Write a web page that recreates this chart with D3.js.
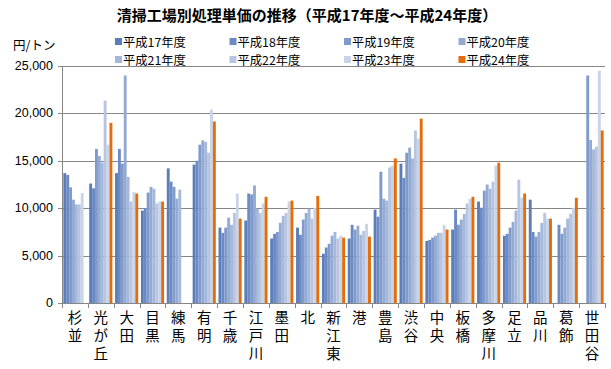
<!DOCTYPE html>
<html lang="ja">
<head>
  <meta charset="UTF-8">
  <title>清掃工場別処理単価の推移</title>
  <script src="https://d3js.org/d3.v7.min.js"></script>
  <style>
    body { margin: 0; background: #fff; }
    svg { display: block; }
    text { font-family: "Noto Sans CJK JP", "Liberation Sans", sans-serif; fill: #000; }
    .num { font-family: "Liberation Sans", Arial, sans-serif; }
    .cat { writing-mode: vertical-rl; text-orientation: upright; letter-spacing: 3.5px; }
  </style>
</head>
<body>
  <svg width="611" height="369"></svg>
  <script>
    // data (円/トン)
    const plants = ["杉並", "光が丘", "大田", "目黒", "練馬", "有明", "千歳", "江戸川", "墨田", "北",
      "新江東", "港", "豊島", "渋谷", "中央", "板橋", "多摩川", "足立", "品川", "葛飾", "世田谷"];
    const years = ["平成17年度", "平成18年度", "平成19年度", "平成20年度",
      "平成21年度", "平成22年度", "平成23年度", "平成24年度"];
    const colors = ["#5b7dba", "#6c8bc4", "#7f9acb", "#93aad3", "#a5b7da", "#b7c5e1", "#c9d4e9", "#e46c0a"];

    // one row per plant, one value per year (null = no bar)
    const values = [
      [13700, 13500, 12200, 10900, 10400, 10400, 11600, null],
      [12600, 12100, 16250, 15500, 14800, 21350, 16700, 19000],
      [13700, 16250, 14700, 24000, 13300, 10700, 11700, 11550],
      [9750, 10000, 11650, 12250, 12050, 10500, 10700, 10700],
      [14200, 12800, 12250, 11000, 11950, null, null, null],
      [14600, 15000, 16700, 17150, 17000, 15850, 20400, 19150],
      [7950, 7400, 7950, 9000, 8250, 9500, 11550, 8900],
      [8700, 11550, 11450, 12400, 9950, 9500, 10500, 11200],
      [6800, 7300, 7500, 8450, 9200, 9500, 10700, 10800],
      [7950, 7200, 8800, 9500, 9950, 8900, 10050, 11300],
      [5200, 5850, 6250, 7100, 7500, 6800, 7100, 6900],
      [6800, 8250, 7750, 8150, 7200, 7600, 8350, 7000],
      [9850, 9100, 13850, 11000, 10800, 14300, 14500, 15250],
      [14700, 13200, 15850, 16400, 15250, 18200, 17350, 19450],
      [6550, 6650, 6900, 7100, 7400, 7400, 8250, 7750],
      [7750, 9850, 8250, 8800, 9400, 10500, 11000, 11200],
      [10700, 10050, 11850, 12500, 12050, 12800, 14500, 14800],
      [7100, 7300, 7950, 8550, 9750, 13000, 11100, 11550],
      [10900, 7500, 7000, 7500, 8450, 9500, 8900, 8900],
      [null, 8250, 7300, 7950, 8900, 9400, 10050, 11100],
      [null, null, 24000, 17200, 16200, 16500, 24500, 18200]
    ];
    const yTicks = [0, 5000, 10000, 15000, 20000, 25000];

    const svg = d3.select("svg");
    const plotL = 62, plotR = 605, plotT = 66, plotB = 303;

    const x = d3.scaleBand().domain(plants).range([plotL, plotR]);
    const gap = x.bandwidth() * 0.105;
    const x1 = d3.scaleBand().domain(d3.range(years.length)).range([gap / 2, x.bandwidth() - gap / 2]);
    const y = d3.scaleLinear().domain([0, 25000]).range([plotB, plotT]);

    // title
    svg.append("text")
      .attr("x", 307).attr("y", 21)
      .attr("text-anchor", "middle")
      .style("font-size", "15px").style("font-weight", "bold")
      .text("清掃工場別処理単価の推移（平成17年度～平成24年度）");

    svg.append("text")
      .attr("x", 13).attr("y", 50)
      .style("font-size", "12.5px")
      .text("円/トン");

    // legend, 4 per row
    const legend = svg.append("g").selectAll("g")
      .data(years)
      .enter().append("g")
      .attr("transform", (d, i) => `translate(${115 + (i % 4) * 114.5},${i < 4 ? 42 : 60})`);
    legend.append("rect")
      .attr("x", 0).attr("y", -4).attr("width", 7).attr("height", 7)
      .attr("fill", (d, i) => colors[i]);
    legend.append("text")
      .attr("x", 8).attr("y", 0)
      .attr("dominant-baseline", "central")
      .style("font-size", "12.3px")
      .text(d => d);

    // gridlines
    svg.append("g").selectAll("line")
      .data(yTicks)
      .enter().append("line")
      .attr("x1", plotL - 4).attr("x2", plotR)
      .attr("y1", d => Math.round(y(d)) + 0.5).attr("y2", d => Math.round(y(d)) + 0.5)
      .attr("stroke", "#868686");

    svg.append("line")
      .attr("x1", plotL + 0.5).attr("x2", plotL + 0.5)
      .attr("y1", plotT).attr("y2", plotB + 1)
      .attr("stroke", "#868686");

    svg.append("g").selectAll("text")
      .data(yTicks)
      .enter().append("text")
      .attr("class", "num")
      .attr("x", 53).attr("y", d => y(d))
      .attr("text-anchor", "end")
      .attr("dominant-baseline", "central")
      .style("font-size", "12.5px")
      .text(d => d3.format(",")(d));

    // category ticks
    svg.append("g").selectAll("line")
      .data(plants.concat(["end"]))
      .enter().append("line")
      .attr("x1", (d, i) => Math.round(plotL + i * x.bandwidth()) + 0.5)
      .attr("x2", (d, i) => Math.round(plotL + i * x.bandwidth()) + 0.5)
      .attr("y1", plotB).attr("y2", plotB + 5)
      .attr("stroke", "#868686");

    // bars
    const group = svg.append("g").selectAll("g")
      .data(values)
      .enter().append("g")
      .attr("transform", (d, i) => `translate(${x(plants[i])},0)`);
    group.selectAll("rect")
      .data(d => d.map((v, j) => ({ v, j })).filter(e => e.v != null))
      .enter().append("rect")
      .attr("x", e => x1(e.j))
      .attr("width", x1.bandwidth())
      .attr("y", e => y(e.v))
      .attr("height", e => plotB - y(e.v))
      .attr("fill", e => colors[e.j]);

    // vertical category labels
    svg.append("g").selectAll("text")
      .data(plants)
      .enter().append("text")
      .attr("class", "cat")
      .attr("x", d => x(d) + x.bandwidth() / 2)
      .attr("y", 310)
      .style("font-size", "14.5px")
      .text(d => d);
  </script>
</body>
</html>
